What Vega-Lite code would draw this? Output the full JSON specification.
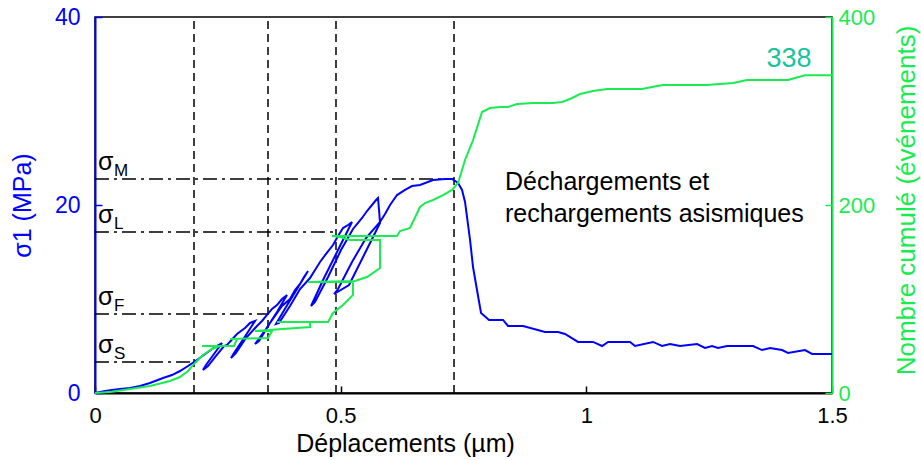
{
  "$schema": "https://vega.github.io/schema/vega-lite/v6.json",
  "width": 737,
  "height": 376,
  "autosize": "none",
  "padding": {"left": 95, "top": 17, "right": 89, "bottom": 67},
  "config": {
    "view": {"stroke": "black", "strokeWidth": 1.5},
    "font": "Liberation Sans",
    "axis": {"grid": false, "labelFont": "Liberation Sans", "titleFont": "Liberation Sans", "titleFontWeight": "normal"}
  },
  "datasets": {
    "blue": [
      {"i":1,"d":0,"s":0},{"i":2,"d":0.0102,"s":0.11},{"i":3,"d":0.0204,"s":0.21},{"i":4,"d":0.0346,"s":0.32},{"i":5,"d":0.0509,"s":0.43},
      {"i":6,"d":0.0712,"s":0.53},{"i":7,"d":0.0916,"s":0.74},{"i":8,"d":0.1119,"s":1.06},{"i":9,"d":0.1384,"s":1.6},{"i":10,"d":0.1567,"s":1.91},
      {"i":11,"d":0.173,"s":2.34},{"i":12,"d":0.1893,"s":2.87},{"i":13,"d":0.2015,"s":3.3},{"i":14,"d":0.2158,"s":3.83},{"i":15,"d":0.23,"s":4.36},
      {"i":16,"d":0.2442,"s":4.89},{"i":17,"d":0.2585,"s":5.32},{"i":18,"d":0.2422,"s":4.15},{"i":19,"d":0.2259,"s":2.98},{"i":20,"d":0.2198,"s":2.45},
      {"i":21,"d":0.23,"s":2.87},{"i":22,"d":0.2463,"s":3.94},{"i":23,"d":0.2626,"s":5.0},{"i":24,"d":0.2687,"s":5.11},{"i":25,"d":0.289,"s":6.28},
      {"i":26,"d":0.3053,"s":6.91},{"i":27,"d":0.3155,"s":7.45},{"i":28,"d":0.3257,"s":7.66},{"i":29,"d":0.3033,"s":5.85},{"i":30,"d":0.2829,"s":4.26},
      {"i":31,"d":0.2768,"s":3.72},{"i":32,"d":0.287,"s":4.26},{"i":33,"d":0.3073,"s":5.85},{"i":34,"d":0.3297,"s":7.13},{"i":35,"d":0.3399,"s":7.66},
      {"i":36,"d":0.3501,"s":8.3},{"i":37,"d":0.3603,"s":8.94},{"i":38,"d":0.3704,"s":9.36},{"i":39,"d":0.3806,"s":10.0},{"i":40,"d":0.3908,"s":10.43},
      {"i":41,"d":0.3704,"s":8.62},{"i":42,"d":0.3481,"s":6.81},{"i":43,"d":0.3257,"s":5.21},{"i":44,"d":0.3338,"s":5.53},{"i":45,"d":0.3562,"s":7.45},
      {"i":46,"d":0.3806,"s":9.26},{"i":47,"d":0.3969,"s":10.0},{"i":48,"d":0.4071,"s":10.96},{"i":49,"d":0.4173,"s":11.6},{"i":50,"d":0.4254,"s":12.34},
      {"i":51,"d":0.4335,"s":12.98},{"i":52,"d":0.4112,"s":11.06},{"i":53,"d":0.3888,"s":9.15},{"i":54,"d":0.3684,"s":7.34},{"i":55,"d":0.3745,"s":7.45},
      {"i":56,"d":0.3969,"s":9.26},{"i":57,"d":0.4173,"s":11.06},{"i":58,"d":0.4376,"s":12.23},{"i":59,"d":0.4478,"s":13.09},{"i":60,"d":0.458,"s":13.94},
      {"i":61,"d":0.4702,"s":14.79},{"i":62,"d":0.4844,"s":15.74},{"i":63,"d":0.4946,"s":16.7},{"i":64,"d":0.5048,"s":17.55},{"i":65,"d":0.515,"s":17.87},
      {"i":66,"d":0.5231,"s":18.19},{"i":67,"d":0.4946,"s":15.21},{"i":68,"d":0.4661,"s":12.23},{"i":69,"d":0.4397,"s":9.26},{"i":70,"d":0.4478,"s":9.68},
      {"i":71,"d":0.4743,"s":12.34},{"i":72,"d":0.5007,"s":15.21},{"i":73,"d":0.5251,"s":17.45},{"i":74,"d":0.5353,"s":18.09},{"i":75,"d":0.5435,"s":18.62},
      {"i":76,"d":0.5536,"s":19.36},{"i":77,"d":0.5638,"s":20.0},{"i":78,"d":0.572,"s":20.53},{"i":79,"d":0.576,"s":20.74},{"i":80,"d":0.5781,"s":19.47},
      {"i":81,"d":0.5801,"s":18.09},{"i":82,"d":0.5496,"s":14.89},{"i":83,"d":0.517,"s":11.49},{"i":84,"d":0.4865,"s":10.53},{"i":85,"d":0.4946,"s":11.06},
      {"i":86,"d":0.5231,"s":13.94},{"i":87,"d":0.5516,"s":16.49},{"i":88,"d":0.5801,"s":18.19},{"i":89,"d":0.5903,"s":19.04},{"i":90,"d":0.6005,"s":20.0},
      {"i":91,"d":0.6147,"s":21.06},{"i":92,"d":0.631,"s":21.6},{"i":93,"d":0.6452,"s":22.02},{"i":94,"d":0.6615,"s":22.13},{"i":95,"d":0.688,"s":22.66},
      {"i":96,"d":0.7124,"s":22.77},{"i":97,"d":0.7267,"s":22.77},{"i":98,"d":0.7389,"s":22.34},{"i":99,"d":0.747,"s":21.6},{"i":100,"d":0.7531,"s":20.32},
      {"i":101,"d":0.7572,"s":18.72},{"i":102,"d":0.7633,"s":16.28},{"i":103,"d":0.7694,"s":13.4},{"i":104,"d":0.7775,"s":10.96},{"i":105,"d":0.7857,"s":8.51},
      {"i":106,"d":0.802,"s":7.77},{"i":107,"d":0.8305,"s":7.77},{"i":108,"d":0.8406,"s":7.13},{"i":109,"d":0.8712,"s":7.13},{"i":110,"d":0.9159,"s":6.49},
      {"i":111,"d":0.9424,"s":6.49},{"i":112,"d":0.9566,"s":6.28},{"i":113,"d":0.9831,"s":5.43},{"i":114,"d":1.0136,"s":5.43},{"i":115,"d":1.032,"s":5.0},
      {"i":116,"d":1.0442,"s":5.43},{"i":117,"d":1.0889,"s":5.43},{"i":118,"d":1.0991,"s":5.0},{"i":119,"d":1.1358,"s":5.43},{"i":120,"d":1.1541,"s":5.0},
      {"i":121,"d":1.1704,"s":5.21},{"i":122,"d":1.1907,"s":5.0},{"i":123,"d":1.2253,"s":5.21},{"i":124,"d":1.2416,"s":4.79},{"i":125,"d":1.2558,"s":5.0},
      {"i":126,"d":1.2681,"s":4.79},{"i":127,"d":1.2864,"s":5.0},{"i":128,"d":1.3393,"s":5.0},{"i":129,"d":1.3576,"s":4.57},{"i":130,"d":1.3739,"s":4.79},
      {"i":131,"d":1.3983,"s":4.57},{"i":132,"d":1.4105,"s":4.26},{"i":133,"d":1.4451,"s":4.57},{"i":134,"d":1.4594,"s":4.15},{"i":135,"d":1.5,"s":4.15}
    ],
    "green": [
      {"i":1,"d":0,"n":0},{"i":2,"d":0.0305,"n":1.1},{"i":3,"d":0.0712,"n":4.3},{"i":4,"d":0.1119,"n":7.4},{"i":5,"d":0.1527,"n":12.8},
      {"i":6,"d":0.173,"n":17.0},{"i":7,"d":0.1893,"n":23.4},{"i":8,"d":0.2015,"n":30.9},{"i":9,"d":0.2198,"n":40.4},{"i":10,"d":0.2381,"n":46.8},
      {"i":11,"d":0.2544,"n":50.0},{"i":12,"d":0.2178,"n":50.0},{"i":13,"d":0.2829,"n":50.0},{"i":14,"d":0.289,"n":57.4},{"i":15,"d":0.2748,"n":57.4},
      {"i":16,"d":0.3521,"n":58.5},{"i":17,"d":0.3603,"n":66.0},{"i":18,"d":0.3257,"n":66.0},{"i":19,"d":0.4376,"n":70.2},{"i":20,"d":0.4376,"n":75.5},
      {"i":21,"d":0.3704,"n":75.5},{"i":22,"d":0.4743,"n":75.5},{"i":23,"d":0.4844,"n":85.1},{"i":24,"d":0.5048,"n":93.6},{"i":25,"d":0.5251,"n":104.3},
      {"i":26,"d":0.5251,"n":118.1},{"i":27,"d":0.4335,"n":118.1},{"i":28,"d":0.5292,"n":119.1},{"i":29,"d":0.5536,"n":123.4},{"i":30,"d":0.5801,"n":133.0},
      {"i":31,"d":0.5801,"n":162.8},{"i":32,"d":0.519,"n":162.8},{"i":33,"d":0.4987,"n":166.0},{"i":34,"d":0.4824,"n":167.0},{"i":35,"d":0.6147,"n":167.0},
      {"i":36,"d":0.6208,"n":172.3},{"i":37,"d":0.6412,"n":175.5},{"i":38,"d":0.6615,"n":197.9},{"i":39,"d":0.6717,"n":202.1},{"i":40,"d":0.688,"n":205.3},
      {"i":41,"d":0.7083,"n":210.6},{"i":42,"d":0.7267,"n":216.0},{"i":43,"d":0.7389,"n":223.4},{"i":44,"d":0.7531,"n":247.9},{"i":45,"d":0.7694,"n":269.1},
      {"i":46,"d":0.7877,"n":298.9},{"i":47,"d":0.804,"n":303.2},{"i":48,"d":0.8243,"n":304.3},{"i":49,"d":0.8406,"n":304.3},{"i":50,"d":0.8589,"n":307.4},
      {"i":51,"d":0.8915,"n":308.5},{"i":52,"d":0.9322,"n":308.5},{"i":53,"d":0.9505,"n":309.6},{"i":54,"d":0.9668,"n":312.8},{"i":55,"d":0.9872,"n":318.1},
      {"i":56,"d":1.0136,"n":321.3},{"i":57,"d":1.0421,"n":323.4},{"i":58,"d":1.1134,"n":323.4},{"i":59,"d":1.1337,"n":325.5},{"i":60,"d":1.1561,"n":327.7},
      {"i":61,"d":1.2457,"n":327.7},{"i":62,"d":1.2986,"n":329.8},{"i":63,"d":1.3271,"n":333.0},{"i":64,"d":1.4105,"n":333.0},{"i":65,"d":1.4451,"n":338},
      {"i":66,"d":1.5,"n":338}
    ],
    "vlines": [
      {"d":0.2015,"s":0,"s2":40},{"d":0.3521,"s":0,"s2":40},{"d":0.4905,"s":0,"s2":40},{"d":0.7307,"s":0,"s2":40}
    ],
    "hlines": [
      {"d":0,"d2":0.7307,"s":22.77,"g":"σ","sub":"M"},
      {"d":0,"d2":0.4905,"s":17.13,"g":"σ","sub":"L"},
      {"d":0,"d2":0.3521,"s":8.4,"g":"σ","sub":"F"},
      {"d":0,"d2":0.2015,"s":3.3,"g":"σ","sub":"S"}
    ],
    "notes": [
      {"d":0.8345,"s":21.6,"t":"Déchargements et"},
      {"d":0.8345,"s":18.2,"t":"rechargements asismiques"}
    ],
    "final": [{"d":1.4126,"n":346.8,"t":"338"}]
  },
  "encoding": {
    "x": {
      "field": "d", "type": "quantitative",
      "scale": {"domain": [0, 1.5], "nice": false, "zero": false},
      "axis": {
        "title": "Déplacements (µm)", "values": [0, 0.5, 1, 1.5], "format": "~g",
        "labelFontSize": 22, "labelColor": "black", "labelPadding": 19, "labelFlush": false,
        "tickSize": -7, "tickColor": "black", "tickWidth": 1.5,
        "domainColor": "black", "domainWidth": 2,
        "titleFontSize": 25, "titleColor": "black",
        "titleX": 310, "titleY": 58, "titleAlign": "center", "titleBaseline": "alphabetic", "titleAnchor": "start"
      }
    }
  },
  "layer": [
    {
      "encoding": {
        "y": {
          "field": "s", "type": "quantitative",
          "scale": {"domain": [0, 40], "nice": false, "zero": false},
          "axis": {
            "orient": "left", "title": "σ1 (MPa)", "values": [0, 20, 40],
            "labelFontSize": 23, "labelColor": "#0000ff", "labelPadding": 22, "labelFlush": false,
            "tickSize": -7, "tickColor": "#0000ff", "tickWidth": 1.5,
            "domainColor": "#0000ff", "domainWidth": 2,
            "titleFontSize": 25, "titleColor": "#0000ff",
            "titleX": -73, "titleY": 188, "titleAngle": -90, "titleAlign": "center", "titleBaseline": "middle", "titleAnchor": "start"
          }
        }
      },
      "layer": [
        {
          "data": {"name": "vlines"},
          "mark": {"type": "rule", "color": "black", "strokeWidth": 1.5, "strokeDash": [8, 5]},
          "encoding": {"y2": {"field": "s2"}}
        },
        {
          "data": {"name": "hlines"},
          "mark": {"type": "rule", "color": "black", "strokeWidth": 1.5, "strokeDash": [14, 5, 3, 5]},
          "encoding": {"x2": {"field": "d2"}}
        },
        {
          "data": {"name": "hlines"},
          "mark": {"type": "text", "align": "left", "baseline": "alphabetic", "dx": 3, "dy": -9, "fontSize": 25, "color": "black"},
          "encoding": {"text": {"field": "g"}}
        },
        {
          "data": {"name": "hlines"},
          "mark": {"type": "text", "align": "left", "baseline": "alphabetic", "dx": 19, "dy": -3, "fontSize": 17, "color": "black"},
          "encoding": {"text": {"field": "sub"}}
        },
        {
          "data": {"name": "blue"},
          "mark": {"type": "line", "color": "#0000ff", "strokeWidth": 2},
          "encoding": {"order": {"field": "i", "type": "quantitative"}}
        },
        {
          "data": {"name": "notes"},
          "mark": {"type": "text", "align": "left", "baseline": "alphabetic", "fontSize": 25, "color": "black"},
          "encoding": {"text": {"field": "t"}}
        }
      ]
    },
    {
      "encoding": {
        "y": {
          "field": "n", "type": "quantitative",
          "scale": {"domain": [0, 400], "nice": false, "zero": false},
          "axis": {
            "orient": "right", "title": "Nombre cumulé (événements)", "values": [0, 200, 400],
            "labelFontSize": 22, "labelColor": "#1aeb50", "labelPadding": 13, "labelFlush": false,
            "tickSize": -7, "tickColor": "#1aeb50", "tickWidth": 1.5,
            "domainColor": "#1aeb50", "domainWidth": 2,
            "titleFontSize": 26, "titleColor": "#1aeb50",
            "titleX": 74, "titleY": 183, "titleAngle": -90, "titleAlign": "center", "titleBaseline": "middle", "titleAnchor": "start"
          }
        }
      },
      "layer": [
        {
          "data": {"name": "green"},
          "mark": {"type": "line", "color": "#1aeb50", "strokeWidth": 2},
          "encoding": {"order": {"field": "i", "type": "quantitative"}}
        },
        {
          "data": {"name": "final"},
          "mark": {"type": "text", "align": "center", "baseline": "alphabetic", "fontSize": 27, "color": "#19c49c"},
          "encoding": {"text": {"field": "t"}}
        }
      ]
    }
  ],
  "resolve": {"scale": {"y": "independent"}}
}
